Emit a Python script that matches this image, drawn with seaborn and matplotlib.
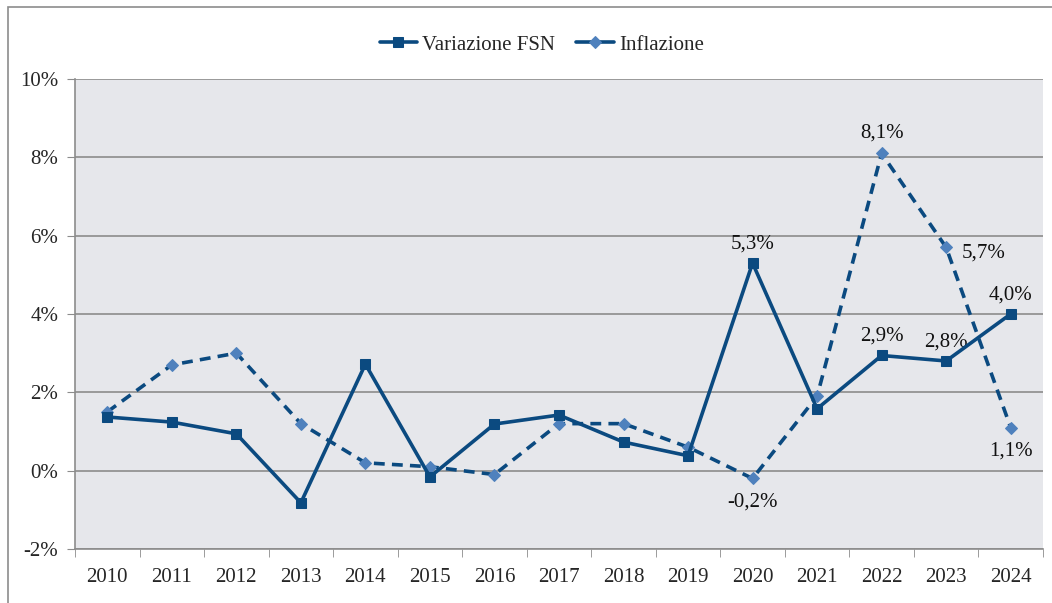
import matplotlib
matplotlib.use("Agg")
import matplotlib.pyplot as plt
from matplotlib.ticker import FixedLocator
from matplotlib.patches import Rectangle
import pandas as pd
import seaborn as sns

years = [str(y) for y in range(2010, 2025)]
fsn = [1.37, 1.24, 0.94, -0.82, 2.72, -0.16, 1.19, 1.42, 0.73, 0.38, 5.3, 1.58, 2.94, 2.8, 4.0]
inflazione = [1.5, 2.7, 3.0, 1.2, 0.2, 0.1, -0.1, 1.2, 1.2, 0.6, -0.2, 1.9, 8.1, 5.7, 1.1]
yticks = [-2, 0, 2, 4, 6, 8, 10]

# which points get a value label, and where it sits (offset in points, alignment)
fsn_labels = {"2020": (0, 7, "center"), "2022": (0, 7, "center"),
              "2023": (0, 7, "center"), "2024": (0, 7, "center")}
infl_labels = {"2020": (0, -10, "center"), "2022": (0, 8, "center"),
               "2023": (11, -4, "left"), "2024": (0, -10, "center")}

DARK = "#0B4A80"
LIGHT = "#4F81BD"
GRID = "#8C8C8C"
FS = 15

sns.set_style("white")
plt.rcParams["font.family"] = ["Liberation Serif", "DejaVu Serif"]

df = pd.DataFrame({"pos": range(len(years)), "year": years, "fsn": fsn, "infl": inflazione})

fig = plt.figure(figsize=(10.52, 6.03), dpi=100)
ax = fig.add_axes([0.0713, 0.0896, 0.9201, 0.7794])
ax.set_facecolor("#E6E7EB")

sns.lineplot(data=df, x="pos", y="fsn", ax=ax, color=DARK, lw=2.6, marker="s", markersize=7,
             markeredgecolor=DARK, markerfacecolor=DARK, label="Variazione FSN", zorder=4)
sns.lineplot(data=df, x="pos", y="infl", ax=ax, color=DARK, lw=2.6, marker="D", markersize=6,
             markeredgecolor=LIGHT, markerfacecolor=LIGHT, label="Inflazione", zorder=3)
ax.lines[1].set_linestyle((0, (3, 2)))


def fmt(v):
    return f"{v:.1f}%".replace(".", ",")


for _, r in df.iterrows():
    for col, spec in (("fsn", fsn_labels), ("infl", infl_labels)):
        if r["year"] in spec:
            dx, dy, ha = spec[r["year"]]
            va = "bottom" if dy > 0 else "top"
            if ha == "left":
                va = "center"
            ax.annotate(fmt(r[col]), (r["pos"], r[col]), xytext=(dx, dy),
                        textcoords="offset points", ha=ha, va=va, fontsize=FS, color="#111111")

ax.set_xlim(-0.5, len(years) - 0.5)
ax.set_ylim(-2, 10)
ax.set_yticks(yticks)
ax.set_yticklabels([f"{t}%" for t in yticks], fontsize=FS)
ax.yaxis.grid(True, color=GRID, lw=1.2)
ax.set_axisbelow(True)
ax.set_xticks(range(len(years)))
ax.set_xticklabels(years, fontsize=FS)
ax.xaxis.set_minor_locator(FixedLocator([i - 0.5 for i in range(len(years) + 1)]))
ax.tick_params(axis="x", which="major", length=0, pad=14)
ax.tick_params(axis="x", which="minor", length=6, color=GRID, direction="out", bottom=True)
ax.tick_params(axis="y", length=6, color=GRID, direction="out", left=True, pad=6)
ax.set_xlabel("")
ax.set_ylabel("")
for s in ["top", "right"]:
    ax.spines[s].set_visible(False)
for s in ["left", "bottom"]:
    ax.spines[s].set_color(GRID)
    ax.spines[s].set_linewidth(1.2)

leg = ax.legend(loc="center", bbox_to_anchor=(0.515, 0.9254), bbox_transform=fig.transFigure,
                ncol=2, frameon=False, fontsize=FS, handlelength=1.8, columnspacing=1.0,
                handletextpad=0.25)
# legend shows both handles as solid lines
for h in leg.get_lines():
    h.set_linestyle("-")

# outer chart-area border (only left and top edges visible in the image)
fig.patches.append(Rectangle((0.0076, -0.05), 1.2, 1.038, transform=fig.transFigure,
                             fill=False, edgecolor=GRID, lw=1.2))

fig.savefig("out.png", dpi=100)
